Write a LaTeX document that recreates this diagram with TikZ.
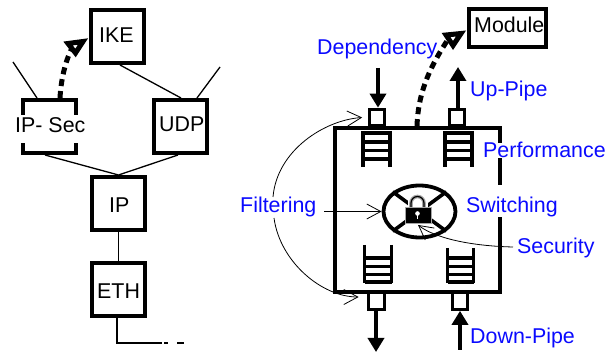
\documentclass[tikz,border=0pt]{standalone}
\usepackage{fontspec}
\setmainfont{Liberation Sans}
\usetikzlibrary{arrows.meta,shapes.geometric,calc}
\definecolor{lblue}{RGB}{10,10,255}
\tikzset{
  x=1pt,y=-1pt,
  boxn/.style={draw=black,line width=4pt,fill=white,inner sep=0pt,minimum width=#1,minimum height=53pt},
  port/.style={draw=black,line width=3.2pt,fill=white,inner sep=0pt,minimum width=15.5pt,minimum height=16.5pt},
  txt/.style={font=\fontsize{21.4}{24}\selectfont,anchor=base west,inner sep=0pt,text=black},
  bluetxt/.style={txt,text=lblue},
  thin line/.style={line width=1.3pt},
  pipe/.style={line width=3.4pt,-{Triangle[length=14pt,width=16pt]}},
  barb/.style={line width=0.8pt,{Straight Barb[length=14pt,width=15pt,line width=0.8pt]}-},
  dep/.style={line width=5pt,dash pattern=on 7pt off 5pt},
  headtri/.style={draw=black,line width=5pt,fill=white,line join=miter},
  rung/.style={line width=3.5pt}
}
\begin{document}
\begin{tikzpicture}
\useasboundingbox (0,0) rectangle (616,352);
% ---- left stack
\node[boxn=53pt] (ike) at (117.5,36.5) {};
\node[boxn=53pt] (ipsec) at (49,126.5) {};
\node[boxn=53pt] (udp) at (180,126.5) {};
\node[boxn=53pt] (ip) at (118.5,203.5) {};
\node[boxn=53pt] (eth) at (118.5,290) {};
\coordinate (stubl) at (13,62);
\coordinate (stubr) at (220,67);
\coordinate (tail1) at (117,343);
\coordinate (tail2) at (162,343);
\coordinate (tail3) at (164,343);
\coordinate (tail3b) at (168,343);
\coordinate (tail4) at (177,343);
\coordinate (tail5) at (184,343);
\draw[thin line] (stubl) -- ([xshift=-12pt]ipsec.north);
\draw[thin line] ([xshift=2.5pt]ike.south) -- ([xshift=1pt]udp.north);
\draw[thin line] (stubr) -- ([xshift=17pt]udp.north);
\draw[thin line] ([xshift=-4pt]ipsec.south) -- (ip.north);
\draw[thin line] ([xshift=-2pt]udp.south) -- (ip.north);
\draw[thin line] (ip.south) -- (eth.north);
\draw[thin line] ([xshift=-1.5pt]eth.south) -- (tail1) -- (tail2);
\draw[thin line] (tail3) -- (tail3b) (tail4) -- (tail5);
\node[txt] (ikelab) at (99,43) {IKE};
\node[txt,fill=white,text height=18pt,text depth=10pt] (ipseclab) at (15,133) {IP- Sec};
\node[txt] (udplab) at (159,132) {UDP};
\node[txt] (iplab) at (109,213) {IP};
\node[txt] (ethlab) at (97,299) {ETH};
% dependency IP-Sec to IKE
\coordinate (h1) at (72,48);
\draw[dep] ([xshift=11pt]ipsec.north) .. controls (61,80) and (65,62) .. (h1);
\draw[headtri] (68,43.5) -- (83,41.5) -- (75.5,53) -- cycle;
% ---- right module
\node[draw=black,line width=4pt,fill=white,inner sep=0pt,minimum width=77pt,minimum height=38pt] (mod) at (507,28.5) {};
\node[txt] (modlab) at (474,33) {Module};
\node[draw=black,line width=3.8pt,inner sep=0pt,minimum width=165pt,minimum height=164pt] (sw) at (417.5,210) {};
% ladders
\foreach \a/\b/\t/\bt/\r in {
  363/390/131/167/{133,142,150.5,159},
  445/472/131/167/{133,142,150.5,159},
  364.5/391.5/245/283/{258,266.5,274.5,282},
  447.5/473.5/248/283/{258,266.5,274.5,282}}{
  \draw[rung] (\a,\t) -- (\a,\bt) (\b,\t) -- (\b,\bt);
  \foreach \y in \r { \draw[rung] (\a,\y) -- (\b,\y); }
}
% ports
\node[port] (ptl) at (377,117.5) {};
\node[port] (ptr) at (457,117.5) {};
\node[port] (pbl) at (376.5,301) {};
\node[port] (pbr) at (460,301) {};
\coordinate (d1) at (378,68);
\coordinate (d2) at (458,67);
\coordinate (d3) at (376,352);
\coordinate (d4) at (460,350);
\draw[pipe] (d1) -- (ptl.north -| d1);
\draw[pipe] (ptr.north -| d2) -- (d2);
\draw[pipe] (pbl.south -| d3) -- (d3);
\draw[pipe] (d4) -- (pbr.south -| d4);
% dependency switch to Module
\coordinate (h2) at (447,41);
\draw[dep] ([xshift=-0.5pt]sw.north) .. controls (418,95) and (428,70) .. (h2);
\draw[headtri] (446,35) -- (461,33.5) -- (453,45.5) -- cycle;
% switch ellipse
\node[draw=black,line width=3.8pt,fill=white,ellipse,inner sep=0pt,minimum width=72pt,minimum height=52pt] (ell) at (419.5,211.5) {};
\draw[line width=3.6pt] (ell.north west) -- (ell.south east) (ell.north east) -- (ell.south west);
% padlock
\fill[white] (408,194) rectangle (428,207);
\draw[gray!70,line width=3.6pt] (411,208) -- (411,203) arc[start angle=180,end angle=0,x radius=6.5pt,y radius=6.5pt] -- (424,208);
\draw[black,line width=1.2pt] (411,208) -- (411,203) arc[start angle=180,end angle=0,x radius=6.5pt,y radius=6.5pt] -- (424,208);
\fill[black,draw=gray!70,line width=0.8pt] (405,207) rectangle (431,223.5);
\fill[white] (417.5,213.5) circle[radius=2.3pt];
\fill[white] (416.6,214) rectangle (418.4,219.5);
% thin curves and arrows
\node[bluetxt,fill=white] (filt) at (240,213) {Filtering};
\coordinate (fup) at (273,197);
\coordinate (fdn) at (274,218);
\coordinate (secstart) at (513,247);
\coordinate (fstart) at (324,211.5);
\draw[barb] ([xshift=-5.5pt]ptl.west) .. controls (325,120) and (277,150) .. (fup);
\draw[barb] ([xshift=-8.5pt,yshift=4pt]pbl.west) .. controls (322,297) and (280,262) .. (fdn);
\draw[barb] (ell.west) -- (fstart);
\draw[barb] (418,225) .. controls (435,238) and (470,246) .. (secstart);
% blue labels
\node[bluetxt] (dep) at (317,55) {Dependency};
\node[bluetxt] (up) at (470,97) {Up-Pipe};
\node[bluetxt,fill=white] (perf) at (483,158) {Performance};
\node[bluetxt,fill=white,text height=28pt,text depth=4.5pt] (swi) at (466,213) {Switching};
\node[bluetxt] (sec) at (517,254) {Security};
\node[bluetxt] (down) at (470,344) {Down-Pipe};
\end{tikzpicture}
\end{document}
